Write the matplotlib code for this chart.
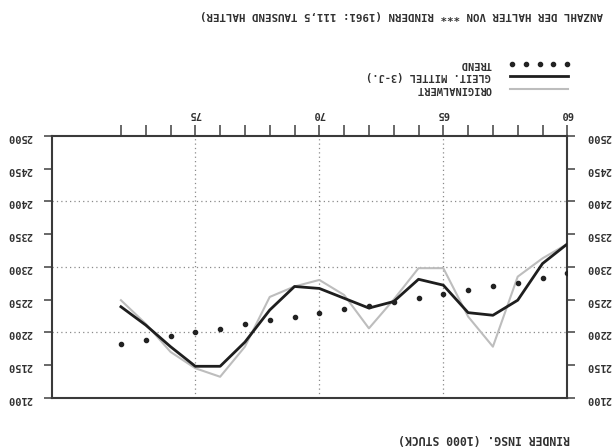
import matplotlib
matplotlib.use('Agg')
import matplotlib.pyplot as plt
from matplotlib.lines import Line2D
from matplotlib.ticker import FixedLocator

# the scanned printout is upside down: everything is drawn turned by 180 degrees
years = list(range(1960, 1979))
original = [2335, 2313, 2285, 2178, 2224, 2298, 2298, 2250, 2206, 2257,
            2280, 2270, 2254, 2178, 2132, 2145, 2170, 2213, 2249]
gleit = [2335, 2305, 2249, 2226, 2230, 2272, 2281, 2247, 2237, 2252,
         2267, 2270, 2234, 2185, 2148, 2148, 2178, 2211, 2239]
trend = [2290, 2283, 2276, 2271, 2265, 2259, 2253, 2247, 2240, 2235,
         2230, 2224, 2219, 2213, 2205, 2200, 2194, 2188, 2182]

major_years = [1960, 1965, 1970, 1975]
major_labels = ['60', '65', '70', '75']
y_ticks = list(range(2100, 2501, 50))
legend_names = ['TREND', 'GLEIT. MITTEL (3-J.)', 'ORIGINALWERT']
title = 'ANZAHL DER HALTER VON *** RINDERN (1961: 111,5 TAUSEND HALTER)'
unit = 'RINDER INSG. (1000 STÜCK)'

W, H = 613, 447
FONT = dict(family='DejaVu Sans Mono', fontweight='bold', size=7.5, color='#303030')

def fx(x):
    return x / W

def fy(y):
    return 1 - y / H

def style_label(lab):
    lab.set_rotation(180)
    lab.set_fontfamily(FONT['family'])
    lab.set_fontweight('bold')
    lab.set_fontsize(FONT['size'])
    lab.set_color(FONT['color'])

fig = plt.figure(figsize=(W / 100, H / 100), dpi=100)
ax = fig.add_axes([fx(52), fy(397.7), (567.3 - 52) / W, (397.7 - 136) / H])

ax.plot(years, original, color='#bdbdbd', lw=1.5, zorder=3)
ax.plot(years, gleit, color='#1e1e1e', lw=2.0, zorder=4)
ax.plot(years, trend, ls='none', marker='o', ms=3.0, color='#222222', zorder=5)

ax.set_xlim(1980.78, 1960)
ax.set_ylim(2100, 2500)

ax.xaxis.tick_top()
ax.xaxis.set_major_locator(FixedLocator(major_years))
ax.xaxis.set_minor_locator(FixedLocator(years))
ax.set_xticklabels(major_labels)
ax.tick_params(axis='x', which='both', direction='out', length=8, width=1.1,
               color='#404040', pad=4)
ax.set_yticks(y_ticks)
ax.tick_params(axis='y', which='both', left=True, right=True, labelleft=True,
               labelright=True, direction='out', length=6, width=1.1,
               color='#404040', pad=8)
for t in ax.xaxis.get_major_ticks():
    style_label(t.label2)
for t in ax.yaxis.get_major_ticks():
    style_label(t.label1)
    style_label(t.label2)

for s in ax.spines.values():
    s.set_color('#3a3a3a')
    s.set_linewidth(1.5)

for x in major_years[1:]:
    ax.axvline(x, color='#8a8a8a', lw=0.9, ls=(0, (1, 2.5)), zorder=1)
for y in [2200, 2300, 2400]:
    ax.axhline(y, color='#8a8a8a', lw=0.9, ls=(0, (1, 2.5)), zorder=1)

# legend, drawn by hand so the texts can be turned over too
leg_y = [64, 76, 89]
for i, (name, yy) in enumerate(zip(legend_names, leg_y)):
    if i == 0:
        xs = [fx(512 + k * 13.75) for k in range(5)]
        fig.add_artist(Line2D(xs, [fy(yy)] * 5, ls='none', marker='o', ms=3.0,
                              color='#222222'))
    elif i == 1:
        fig.add_artist(Line2D([fx(510), fx(568)], [fy(yy)] * 2, color='#1e1e1e', lw=2.0))
    else:
        fig.add_artist(Line2D([fx(510), fx(568)], [fy(yy)] * 2, color='#bdbdbd', lw=1.5))
    fig.text(fx(491), fy(yy), name, rotation=180, ha='right', va='center', **FONT)

fig.text(fx(200), fy(15), title, rotation=180, ha='left', va='center',
         **{**FONT, 'size': 7.8})
fig.text(fx(398), fy(439), unit, rotation=180, ha='left', va='center',
         **{**FONT, 'size': 8.3})

fig.savefig('out.png', dpi=100)
